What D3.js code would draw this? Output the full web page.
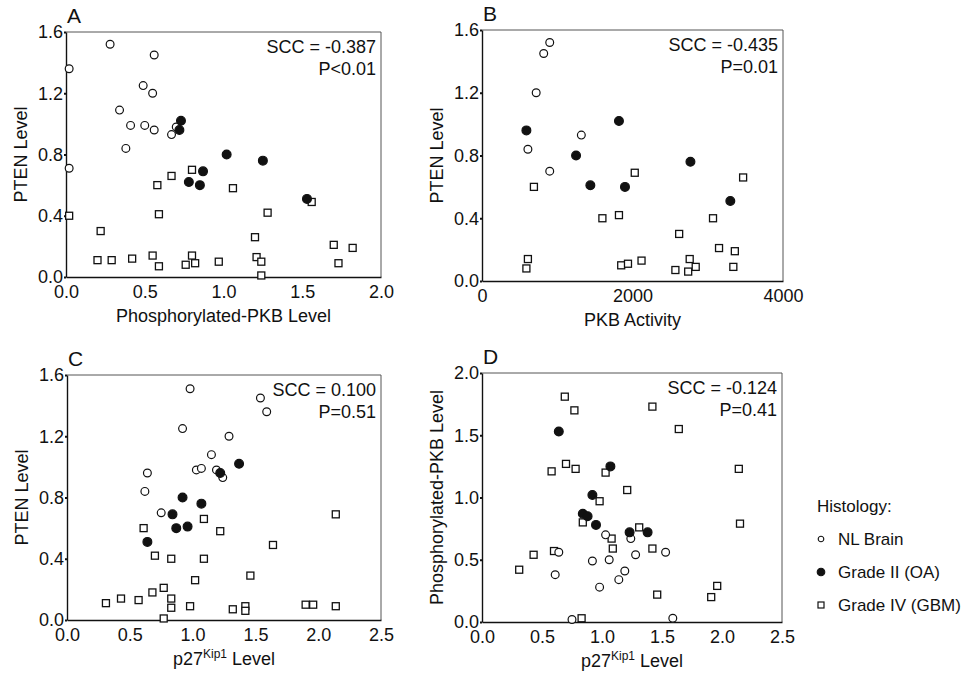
<!DOCTYPE html>
<html>
<head>
<meta charset="utf-8">
<title>PTEN / PKB / p27 scatter panels</title>
<script src="https://d3js.org/d3.v7.min.js"></script>
<style>
  body { margin: 0; background: #fff; }
  text { font-family: "Liberation Sans", Arial, sans-serif; fill: #111; }
</style>
</head>
<body>
<div id="chart"></div>
<script>
// panel A: phosphorylated-PKB (x) vs PTEN (y)
var aNL  = [[0.02,1.36],[0.28,1.52],[0.56,1.45],[0.49,1.25],[0.55,1.20],[0.34,1.09],[0.41,0.99],[0.50,0.99],[0.56,0.96],[0.70,0.98],[0.67,0.93],[0.38,0.84],[0.02,0.71]];
var aOA  = [[0.73,1.02],[0.72,0.96],[0.78,0.62],[0.85,0.60],[0.87,0.69],[1.02,0.80],[1.25,0.76],[1.53,0.51]];
var aGBM = [[0.02,0.40],[0.58,0.60],[0.67,0.66],[0.80,0.70],[1.06,0.58],[0.59,0.41],[0.22,0.30],[1.56,0.49],[1.28,0.42],[1.20,0.26],[1.70,0.21],[1.82,0.19],[1.73,0.09],
            [0.20,0.11],[0.29,0.11],[0.42,0.12],[0.55,0.14],[0.59,0.07],[0.76,0.08],[0.80,0.14],[0.82,0.09],[0.97,0.10],[1.21,0.13],[1.24,0.10],[1.24,0.01]];

// panel B: PKB activity (x) vs PTEN (y)
var bNL  = [[900,1.52],[820,1.45],[720,1.20],[1320,0.93],[610,0.84],[900,0.70]];
var bOA  = [[590,0.96],[1250,0.80],[1440,0.61],[1820,1.02],[1900,0.60],[2770,0.76],[3300,0.51]];
var bGBM = [[690,0.60],[1600,0.40],[1820,0.42],[2030,0.69],[3470,0.66],[3070,0.40],[2620,0.30],[3150,0.21],[3360,0.19],[3340,0.09],
            [610,0.14],[590,0.08],[1850,0.10],[1940,0.11],[2120,0.13],[2570,0.07],[2760,0.14],[2740,0.06],[2840,0.09]];

// panel C: p27 (x) vs PTEN (y)
var cNL  = [[0.98,1.51],[1.54,1.45],[1.59,1.36],[0.92,1.25],[1.29,1.20],[1.15,1.08],[1.03,0.98],[1.07,0.99],[1.19,0.98],[1.24,0.93],[0.64,0.96],[0.62,0.84],[0.75,0.70]];
var cOA  = [[1.37,1.02],[1.22,0.96],[0.92,0.80],[1.07,0.76],[0.84,0.69],[0.87,0.60],[0.96,0.61],[0.64,0.51]];
var cGBM = [[0.61,0.60],[1.09,0.66],[1.22,0.58],[2.14,0.69],[1.64,0.49],[0.70,0.42],[0.83,0.40],[1.09,0.40],[1.46,0.29],[1.02,0.26],[0.77,0.21],[0.68,0.18],
            [0.31,0.11],[0.43,0.14],[0.57,0.13],[0.83,0.14],[0.83,0.08],[0.98,0.09],[0.77,0.01],[1.32,0.07],[1.42,0.09],[1.42,0.06],[1.90,0.10],[1.96,0.10],[2.14,0.09]];

// panel D: p27 (x) vs phosphorylated-PKB (y)
var dNL  = [[0.64,0.56],[0.61,0.38],[0.75,0.02],[0.92,0.49],[1.03,0.70],[1.06,0.50],[0.98,0.28],[1.14,0.34],[1.19,0.41],[1.24,0.67],[1.28,0.54],[1.53,0.56],[1.59,0.03]];
var dOA  = [[0.64,1.53],[1.07,1.25],[0.92,1.02],[0.84,0.87],[0.88,0.85],[0.95,0.78],[1.23,0.72],[1.38,0.72]];
var dGBM = [[0.69,1.81],[0.77,1.70],[1.42,1.73],[1.64,1.55],[0.70,1.27],[0.58,1.21],[0.78,1.23],[1.03,1.20],[2.14,1.23],[1.21,1.06],[0.98,0.97],[0.84,0.80],
            [1.31,0.76],[2.15,0.79],[1.08,0.67],[1.09,0.59],[1.42,0.59],[0.60,0.57],[0.43,0.54],[0.31,0.42],[1.46,0.22],[1.96,0.29],[1.91,0.20],[0.83,0.03]];

var panelLetters = ["A", "B", "C", "D"];
var sccLabels = ["SCC = -0.387", "SCC = -0.435", "SCC = 0.100", "SCC = -0.124"];
var pLabels = ["P<0.01", "P=0.01", "P=0.51", "P=0.41"];
var groupNames = ["NL Brain", "Grade II (OA)", "Grade IV (GBM)"];
var ticksPten = [0, 0.4, 0.8, 1.2, 1.6];
var ticksPkbLevel = [0, 0.5, 1.0, 1.5, 2.0];
var ticksPkbActivity = [0, 2000, 4000];
var ticksP27 = [0, 0.5, 1.0, 1.5, 2.0, 2.5];

var svg = d3.select("#chart").append("svg")
  .attr("width", 977)
  .attr("height", 673);

var fmt1 = d3.format(".1f");

var panels = [
  { box: [66, 381, 32, 277], xTicks: ticksPkbLevel, xFmt: fmt1, yTicks: ticksPten,
    xLabel: "Phosphorylated-PKB Level", yLabel: "PTEN Level", sets: [aNL, aOA, aGBM] },
  { box: [482, 783, 30, 281], xTicks: ticksPkbActivity, xFmt: d3.format("d"), yTicks: ticksPten,
    xLabel: "PKB Activity", yLabel: "PTEN Level", sets: [bNL, bOA, bGBM] },
  { box: [67, 381, 375, 620], xTicks: ticksP27, xFmt: fmt1, yTicks: ticksPten,
    xLabel: "p27", yLabel: "PTEN Level", sets: [cNL, cOA, cGBM] },
  { box: [482, 782, 373, 622], xTicks: ticksP27, xFmt: fmt1, yTicks: ticksPkbLevel,
    xLabel: "p27", yLabel: "Phosphorylated-PKB Level", sets: [dNL, dOA, dGBM] }
];

function drawMarker(sel, kind) {
  if (kind === 2) {
    sel.append("rect")
      .attr("x", -3.5).attr("y", -3.5).attr("width", 7).attr("height", 7)
      .attr("fill", "#fff").attr("stroke", "#111").attr("stroke-width", 1.3);
  } else {
    sel.append("circle")
      .attr("r", kind === 1 ? 4.4 : 3.9)
      .attr("fill", kind === 1 ? "#111" : "#fff")
      .attr("stroke", "#111").attr("stroke-width", 1.2);
  }
}

panels.forEach(function(p, i) {
  var b = p.box;
  var x = d3.scaleLinear().domain(d3.extent(p.xTicks)).range([b[0], b[1]]);
  var y = d3.scaleLinear().domain(d3.extent(p.yTicks)).range([b[3], b[2]]);
  var g = svg.append("g");

  // thin top/right frame
  g.append("path")
    .attr("d", "M" + b[0] + "," + b[2] + "H" + b[1] + "V" + b[3])
    .attr("fill", "none").attr("stroke", "#555").attr("stroke-width", 1);

  var yAxis = g.append("g")
    .attr("transform", "translate(" + b[0] + ",0)")
    .call(d3.axisLeft(y).tickValues(p.yTicks).tickFormat(fmt1).tickSize(2).tickPadding(1).tickSizeOuter(0));
  var xAxis = g.append("g")
    .attr("transform", "translate(0," + b[3] + ")")
    .call(d3.axisBottom(x).tickValues(p.xTicks).tickFormat(p.xFmt).tickSize(0).tickPadding(8).tickSizeOuter(0));
  [xAxis, yAxis].forEach(function(a) {
    a.select(".domain").attr("stroke", "#111").attr("stroke-width", 1.4);
    a.selectAll(".tick line").attr("stroke", "#111").attr("stroke-width", 2);
    a.selectAll(".tick text").attr("font-size", 18).attr("fill", "#111")
      .style("font-family", "'Liberation Sans', Arial, sans-serif");
  });

  // points: squares, open circles, then filled circles on top
  [2, 0, 1].forEach(function(k) {
    g.selectAll(".pt" + k)
      .data(p.sets[k])
      .enter().append("g")
      .attr("transform", function(d) { return "translate(" + x(d[0]) + "," + y(d[1]) + ")"; })
      .each(function() { drawMarker(d3.select(this), k); });
  });

  g.append("text")
    .attr("x", b[0] + 1).attr("y", b[2] - 9)
    .attr("font-size", 21)
    .text(panelLetters[i]);

  g.append("text")
    .attr("x", b[1] - 5).attr("y", b[2] + 21)
    .attr("text-anchor", "end").attr("font-size", 18)
    .text(sccLabels[i]);
  g.append("text")
    .attr("x", b[1] - 5).attr("y", b[2] + 43)
    .attr("text-anchor", "end").attr("font-size", 18)
    .text(pLabels[i]);

  var xl = g.append("text")
    .attr("x", (b[0] + b[1]) / 2).attr("y", b[3] + 45)
    .attr("text-anchor", "middle").attr("font-size", 18);
  xl.append("tspan").text(p.xLabel);
  if (p.xLabel === "p27") {
    xl.append("tspan").attr("font-size", 12).attr("dy", -7).text("Kip1");
    xl.append("tspan").attr("dy", 7).text(" Level");
  }

  g.append("text")
    .attr("transform", "translate(" + (b[0] - 39) + "," + ((b[2] + b[3]) / 2) + ") rotate(-90)")
    .attr("text-anchor", "middle").attr("font-size", 18)
    .text(p.yLabel);
});

// legend
var legend = svg.append("g").attr("transform", "translate(817,0)");
legend.append("text").attr("x", 0).attr("y", 512).attr("font-size", 17).text("Histology:");
groupNames.forEach(function(name, k) {
  var yy = 539 + k * 33;
  var m = legend.append("g").attr("transform", "translate(4," + yy + ")");
  if (k === 2) {
    m.append("rect").attr("x", -3).attr("y", -3).attr("width", 6).attr("height", 6)
      .attr("fill", "#fff").attr("stroke", "#111").attr("stroke-width", 1.2);
  } else {
    m.append("circle").attr("r", k === 1 ? 3.8 : 2.8)
      .attr("fill", k === 1 ? "#111" : "#fff").attr("stroke", "#111").attr("stroke-width", 1.1);
  }
  legend.append("text").attr("x", 21).attr("y", yy + 6).attr("font-size", 17).text(name);
});
</script>
</body>
</html>
